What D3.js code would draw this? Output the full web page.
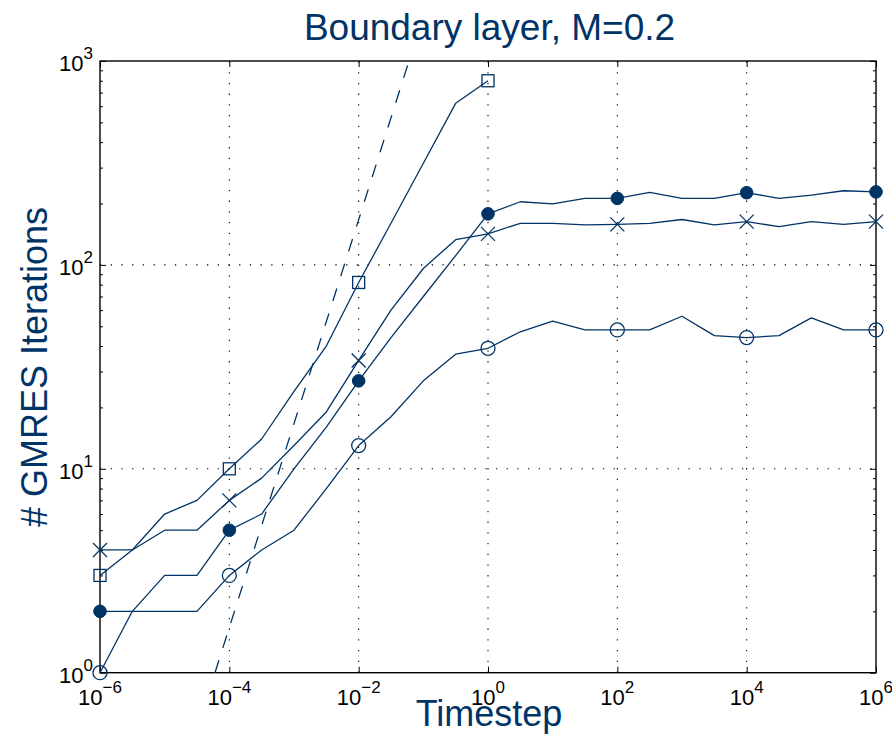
<!DOCTYPE html>
<html>
<head>
<meta charset="utf-8">
<script src="https://cdn.jsdelivr.net/npm/d3@7/dist/d3.min.js"></script>
<style>
  html, body { margin: 0; padding: 0; background: #fff; }
  svg { display: block; font-family: "Liberation Sans", Arial, Helvetica, sans-serif; }
</style>
</head>
<body>
<svg id="chart" width="892" height="753"></svg>
<script>
// ---- data ----
const timesteps = [1e-6, 3.16e-6, 1e-5, 3.16e-5, 1e-4, 3.16e-4, 1e-3, 3.16e-3, 1e-2, 3.16e-2,
                   1e-1, 3.16e-1, 1, 3.16, 10, 31.6, 100, 316, 1000, 3162, 1e4, 3.16e4, 1e5, 3.16e5, 1e6];
const seriesOpenCircle = [1, 2, 2, 2, 3, 4, 5, 8, 13, 18, 27, 36.5, 39, 47, 53, 48, 48, 48, 56, 45, 44, 45, 55, 48, 48];
const seriesFilledCircle = [2, 2, 3, 3, 5, 6, 10, 16, 27, 44, 70, 111, 178, 204, 199, 212, 212, 227, 212, 212, 226, 212, 220, 231, 228];
const seriesCross = [4, 4, 5, 5, 7, 9, 13, 19, 34, 60, 96, 133, 142, 160, 160, 157, 158, 160, 167, 157, 163, 154, 163, 158, 163];
const seriesSquare = [3, 4, 6, 7, 10, 14, 24, 40, 82, 160, 315, 620, 800];
const markerTimesteps = [1e-6, 1e-4, 1e-2, 1, 100, 1e4, 1e6];
const referenceX = [6e-5, 0.06];
const referenceY = [1, 1000];
const xTickValues = [1e-6, 1e-4, 1e-2, 1, 1e2, 1e4, 1e6];
const xTickExponents = ["−6", "−4", "−2", "0", "2", "4", "6"];
const yTickValues = [1, 10, 100, 1000];
const yTickExponents = ["0", "1", "2", "3"];
const titleText = "Boundary layer, M=0.2";
const xLabelText = "Timestep";
const yLabelText = "# GMRES Iterations";

// ---- layout ----
const navy = "#003366";
const L = 100, R = 876, T = 61, B = 672.7;
const svg = d3.select("#chart");
const x = d3.scaleLog().domain([1e-6, 1e6]).range([L, R]);
const y = d3.scaleLog().domain([1, 1000]).range([B, T]);

// grid
const grid = svg.append("g").attr("stroke", "#000").attr("stroke-width", 1.1)
  .attr("stroke-dasharray", "1.3,9.4").attr("fill", "none");
xTickValues.slice(1, -1).forEach(v => {
  grid.append("line").attr("x1", x(v)).attr("x2", x(v)).attr("y1", B).attr("y2", T);
});
yTickValues.slice(1, -1).forEach(v => {
  grid.append("line").attr("x1", L).attr("x2", R).attr("y1", y(v)).attr("y2", y(v));
});

// axes (ticks inward)
const yMinor = [];
[1, 10, 100].forEach(d => { for (let k = 2; k <= 9; k++) yMinor.push(d * k); });

function styleAxis(g) {
  g.select(".domain").remove();
  g.selectAll("line").attr("stroke", "#000").attr("stroke-width", 1);
}
svg.append("g").attr("transform", `translate(0,${B})`)
  .call(d3.axisBottom(x).tickValues(xTickValues).tickSize(-6).tickFormat("")).call(styleAxis);
svg.append("g").attr("transform", `translate(0,${T})`)
  .call(d3.axisTop(x).tickValues(xTickValues).tickSize(-6).tickFormat("")).call(styleAxis);
svg.append("g").attr("transform", `translate(${L},0)`)
  .call(d3.axisLeft(y).tickValues(yTickValues).tickSize(-6).tickFormat("")).call(styleAxis);
svg.append("g").attr("transform", `translate(${R},0)`)
  .call(d3.axisRight(y).tickValues(yTickValues).tickSize(-6).tickFormat("")).call(styleAxis);
svg.append("g").attr("transform", `translate(${L},0)`)
  .call(d3.axisLeft(y).tickValues(yMinor).tickSize(-3).tickFormat("")).call(styleAxis);
svg.append("g").attr("transform", `translate(${R},0)`)
  .call(d3.axisRight(y).tickValues(yMinor).tickSize(-3).tickFormat("")).call(styleAxis);

// box
svg.append("rect").attr("x", L).attr("y", T).attr("width", R - L).attr("height", B - T)
  .attr("fill", "none").attr("stroke", "#000").attr("stroke-width", 1.4);

// tick labels
xTickValues.forEach((v, i) => {
  const t = svg.append("text").attr("x", x(v)).attr("y", 705).attr("text-anchor", "middle")
    .attr("fill", "#000").attr("font-size", 22);
  t.append("tspan").text("10");
  t.append("tspan").attr("dy", -12).attr("font-size", 17).text(xTickExponents[i]);
});
yTickValues.forEach((v, i) => {
  const t = svg.append("text").attr("x", 93).attr("y", y(v) + 10).attr("text-anchor", "end")
    .attr("fill", "#000").attr("font-size", 22);
  t.append("tspan").text("10");
  t.append("tspan").attr("dy", -12).attr("font-size", 17).text(yTickExponents[i]);
});

// titles
svg.append("text").attr("x", 489.5).attr("y", 40).attr("text-anchor", "middle")
  .attr("font-size", 37).attr("fill", navy).text(titleText);
svg.append("text").attr("x", 489).attr("y", 726).attr("text-anchor", "middle")
  .attr("font-size", 36).attr("fill", navy).text(xLabelText);
svg.append("text").attr("transform", "translate(47,367) rotate(-90)").attr("text-anchor", "middle")
  .attr("font-size", 36).attr("fill", navy).text(yLabelText);

// series lines
const line = d3.line().x(d => x(d[0])).y(d => y(d[1]));
const plot = svg.append("g");
function drawSeries(vals) {
  const pts = vals.map((v, i) => [timesteps[i], v]);
  plot.append("path").datum(pts).attr("d", line).attr("fill", "none")
    .attr("stroke", navy).attr("stroke-width", 1.3).attr("stroke-linejoin", "round");
  return pts.filter(p => markerTimesteps.includes(p[0]));
}
const openPts = drawSeries(seriesOpenCircle);
const filledPts = drawSeries(seriesFilledCircle);
const crossPts = drawSeries(seriesCross);
const squarePts = drawSeries(seriesSquare);

// reference dashed line
plot.append("path").datum(referenceX.map((v, i) => [v, referenceY[i]])).attr("d", line)
  .attr("fill", "none").attr("stroke", navy).attr("stroke-width", 1.3).attr("stroke-dasharray", "13,13");

// markers
plot.selectAll(".mo").data(openPts).join("circle").attr("cx", d => x(d[0])).attr("cy", d => y(d[1]))
  .attr("r", 7).attr("fill", "none").attr("stroke", navy).attr("stroke-width", 1.3);
plot.selectAll(".mf").data(filledPts).join("circle").attr("cx", d => x(d[0])).attr("cy", d => y(d[1]))
  .attr("r", 6.3).attr("fill", navy).attr("stroke", navy).attr("stroke-width", 1);
plot.selectAll(".ms").data(squarePts).join("rect").attr("x", d => x(d[0]) - 6).attr("y", d => y(d[1]) - 6)
  .attr("width", 12).attr("height", 12).attr("fill", "none").attr("stroke", navy).attr("stroke-width", 1.3);
plot.selectAll(".mx").data(crossPts).join("path")
  .attr("d", d => { const cx = x(d[0]), cy = y(d[1]), s = 7;
    return `M${cx - s},${cy - s}L${cx + s},${cy + s}M${cx - s},${cy + s}L${cx + s},${cy - s}`; })
  .attr("fill", "none").attr("stroke", navy).attr("stroke-width", 1.3);
</script>
</body>
</html>
